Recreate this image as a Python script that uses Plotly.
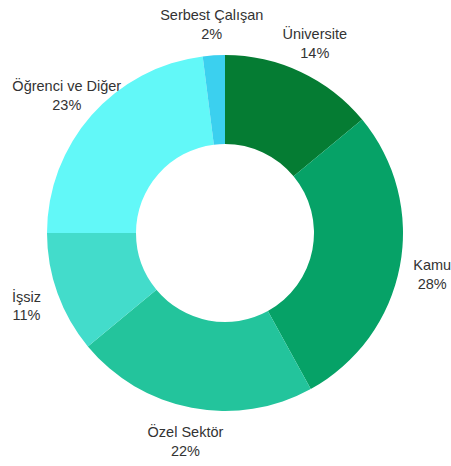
import plotly.graph_objects as go

labels = ["Üniversite", "Kamu", "Özel Sektör", "İşsiz", "Öğrenci ve Diğer", "Serbest Çalışan"]
values = [14, 28, 22, 11, 23, 2]
colors = ["#057c33", "#06a267", "#23c49c", "#43dccb", "#62f8f8", "#3bd0ef"]

W, H = 451, 466
# ring centre / radius in figure pixels
CX, CY, R = 225, 233, 178
LABEL_DY = 3     # small downward nudge of the label layer (px)
LABEL_R = 1.185  # label distance relative to outer radius
RMAX = 1.22      # radial range of the label layer

pie_x = [(CX - R) / W, (CX + R) / W]
pie_y = [1 - (CY + R) / H, 1 - (CY - R) / H]
PR = R * RMAX
LCY = CY + LABEL_DY
pol_x = [(CX - PR) / W, (CX + PR) / W]
pol_y = [1 - (LCY + PR) / H, 1 - (LCY - PR) / H]

total = sum(values)
mids = []
acc = 0
for v in values:
    mids.append((acc + v / 2) / total * 360)
    acc += v
texts = [f"{l}<br>{round(v / total * 100)}%" for l, v in zip(labels, values)]

fig = go.Figure()
fig.add_trace(go.Pie(
    labels=labels,
    values=values,
    hole=0.5,
    sort=False,
    direction="clockwise",
    rotation=0,
    domain=dict(x=pie_x, y=pie_y),
    marker=dict(colors=colors, line=dict(width=0)),
    textinfo="none",
    showlegend=False,
    hoverinfo="label+percent",
))
fig.add_trace(go.Scatterpolar(
    r=[LABEL_R] * len(values),
    theta=mids,
    mode="text",
    text=texts,
    textposition="middle center",
    textfont=dict(family="Liberation Sans, Arial, sans-serif", size=14.5, color="#333333"),
    cliponaxis=False,
    showlegend=False,
    hoverinfo="skip",
))

fig.update_layout(
    width=W,
    height=H,
    margin=dict(l=0, r=0, t=0, b=0),
    paper_bgcolor="white",
    plot_bgcolor="white",
    polar=dict(
        domain=dict(x=pol_x, y=pol_y),
        bgcolor="rgba(0,0,0,0)",
        radialaxis=dict(range=[0, RMAX], visible=False, showgrid=False),
        angularaxis=dict(rotation=90, direction="clockwise", visible=False, showgrid=False),
    ),
)

fig.write_html(
    "out.html",
    config={"displayModeBar": False},
    post_script="document.body.style.margin='0';document.body.style.overflow='hidden';",
)
